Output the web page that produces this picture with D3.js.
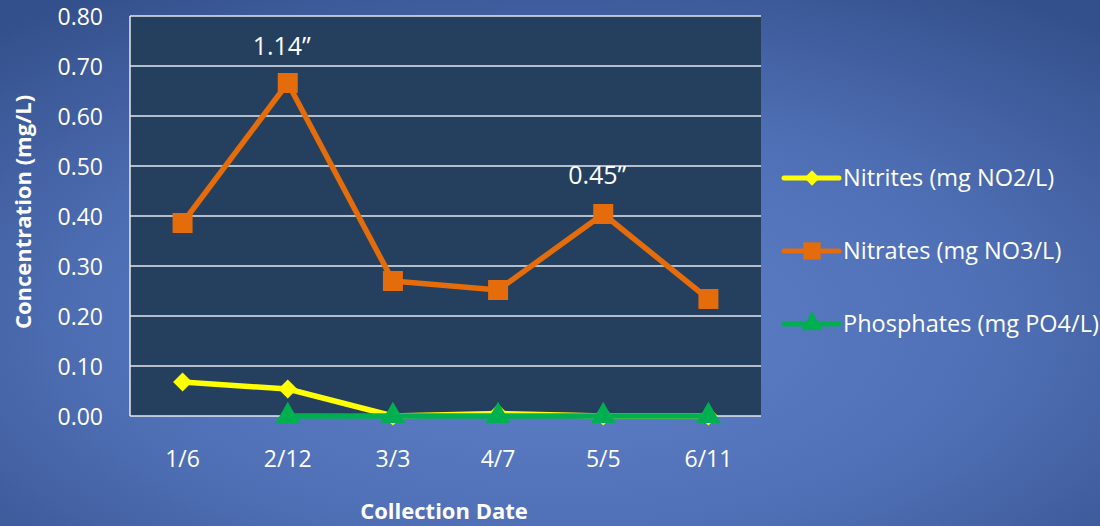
<!DOCTYPE html>
<html>
<head>
<meta charset="utf-8">
<script src="https://cdn.jsdelivr.net/npm/d3@7"></script>
<style>
  html, body { margin: 0; padding: 0; }
  body { width: 1100px; height: 526px; overflow: hidden; }
  text { font-family: "Open Sans", "Noto Sans", sans-serif; fill: #fff; }
</style>
</head>
<body>
<svg id="chart" width="1100" height="526"></svg>
<script>
// categories and series
const dates = ["1/6", "2/12", "3/3", "4/7", "5/5", "6/11"];
const nitrites = [0.068, 0.054, 0.0, 0.005, 0.0, 0.0];
const nitrates = [0.386, 0.666, 0.27, 0.252, 0.404, 0.234];
const phosphates = [null, 0.0, 0.0, 0.0, 0.0, 0.0];
const yTicks = [0, 0.1, 0.2, 0.3, 0.4, 0.5, 0.6, 0.7, 0.8];
const notes = [{ date: "2/12", value: 0.722, label: "1.14\u201d" },
               { date: "5/5", value: 0.464, label: "0.45\u201d" }];

const series = [
  { name: "Nitrites (mg NO2/L)", values: nitrites, color: "#ffff00", symbol: d3.symbolDiamond2, size: 230, legendSize: 150 },
  { name: "Nitrates (mg NO3/L)", values: nitrates, color: "#e46c0a", symbol: d3.symbolSquare, size: 400, legendSize: 300 },
  { name: "Phosphates (mg PO4/L)", values: phosphates, color: "#00b050", symbol: d3.symbolTriangle, size: 260, legendSize: 200 }
];

const svg = d3.select("#chart");

// background gradient
let defs = svg.append("defs");
let grad = defs.append("radialGradient")
  .attr("id", "bg")
  .attr("cx", "50%").attr("cy", "62%").attr("r", "75%");
grad.append("stop").attr("offset", "0%").attr("stop-color", "#5f82cb");
grad.append("stop").attr("offset", "55%").attr("stop-color", "#4f6fb5");
grad.append("stop").attr("offset", "100%").attr("stop-color", "#34508c");
svg.append("rect").attr("width", 1100).attr("height", 526).attr("fill", "url(#bg)");

const plot = { left: 130, top: 16, right: 761, bottom: 416 };

const x = d3.scaleBand()
  .domain(dates)
  .range([plot.left, plot.right]);

const y = d3.scaleLinear()
  .domain([0, 0.8])
  .range([plot.bottom, plot.top]);

// plot area
svg.append("rect")
  .attr("x", plot.left).attr("y", plot.top)
  .attr("width", plot.right - plot.left)
  .attr("height", plot.bottom - plot.top)
  .attr("fill", "#253f5f");

// gridlines
svg.append("g")
  .selectAll("line")
  .data(yTicks)
  .join("line")
  .attr("x1", plot.left).attr("x2", plot.right)
  .attr("y1", d => y(d)).attr("y2", d => y(d))
  .attr("stroke", "#e6e9ef")
  .attr("stroke-width", 1.5);

// left border
svg.append("line")
  .attr("x1", plot.left).attr("x2", plot.left)
  .attr("y1", plot.top).attr("y2", plot.bottom)
  .attr("stroke", "#e6e9ef").attr("stroke-width", 1.5);

// y axis
let yAxis = d3.axisLeft(y)
  .tickValues(yTicks)
  .tickFormat(d3.format(".2f"))
  .tickSize(0)
  .tickPadding(27);
let yg = svg.append("g")
  .attr("transform", `translate(${plot.left},0)`)
  .call(yAxis);
yg.select(".domain").remove();
yg.selectAll("text")
  .attr("font-size", 23)
  .attr("font-family", null)
  .attr("fill", "#fff")
  .attr("dy", "0.36em");

// x axis
let xAxis = d3.axisBottom(x).tickSize(0).tickPadding(35);
let xg = svg.append("g")
  .attr("transform", `translate(0,${plot.bottom})`)
  .call(xAxis);
xg.select(".domain").remove();
xg.selectAll("text")
  .attr("font-size", 23)
  .attr("font-family", null)
  .attr("fill", "#fff");

// axis titles
svg.append("text")
  .attr("transform", "translate(31,212) rotate(-90)")
  .attr("text-anchor", "middle")
  .attr("font-size", 22)
  .attr("font-weight", "bold")
  .text("Concentration (mg/L)");

svg.append("text")
  .attr("x", 444).attr("y", 519)
  .attr("text-anchor", "middle")
  .attr("font-size", 22)
  .attr("font-weight", "bold")
  .text("Collection Date");

// lines and markers
const cx = d => x(d) + x.bandwidth() / 2;

series.forEach(s => {
  let pts = dates.map((d, i) => ({ d: d, v: s.values[i] }));
  let line = d3.line()
    .defined(p => p.v !== null)
    .x(p => cx(p.d))
    .y(p => y(p.v));

  svg.append("path")
    .datum(pts)
    .attr("d", line)
    .attr("fill", "none")
    .attr("stroke", s.color)
    .attr("stroke-width", 5.5)
    .attr("stroke-linejoin", "round");

  svg.append("g")
    .selectAll("path")
    .data(pts.filter(p => p.v !== null))
    .join("path")
    .attr("transform", p => `translate(${cx(p.d)},${y(p.v)})`)
    .attr("d", d3.symbol().type(s.symbol).size(s.size))
    .attr("fill", s.color);
});

// annotations
svg.append("g")
  .selectAll("text")
  .data(notes)
  .join("text")
  .attr("x", d => cx(d.date) - 6)
  .attr("y", d => y(d.value))
  .attr("text-anchor", "middle")
  .attr("font-size", 25)
  .text(d => d.label);

// legend
let legend = svg.append("g")
  .selectAll("g")
  .data(series)
  .join("g")
  .attr("transform", (d, i) => `translate(784,${178 + i * 73})`);

legend.append("line")
  .attr("x1", 0).attr("x2", 55)
  .attr("stroke", d => d.color)
  .attr("stroke-width", 5)
  .attr("stroke-linecap", "round");

legend.append("path")
  .attr("transform", "translate(28,0)")
  .attr("d", d => d3.symbol().type(d.symbol).size(d.legendSize)())
  .attr("fill", d => d.color);

legend.append("text")
  .attr("x", 59)
  .attr("dy", "0.33em")
  .attr("font-size", 23.5)
  .text(d => d.name);
</script>
</body>
</html>
